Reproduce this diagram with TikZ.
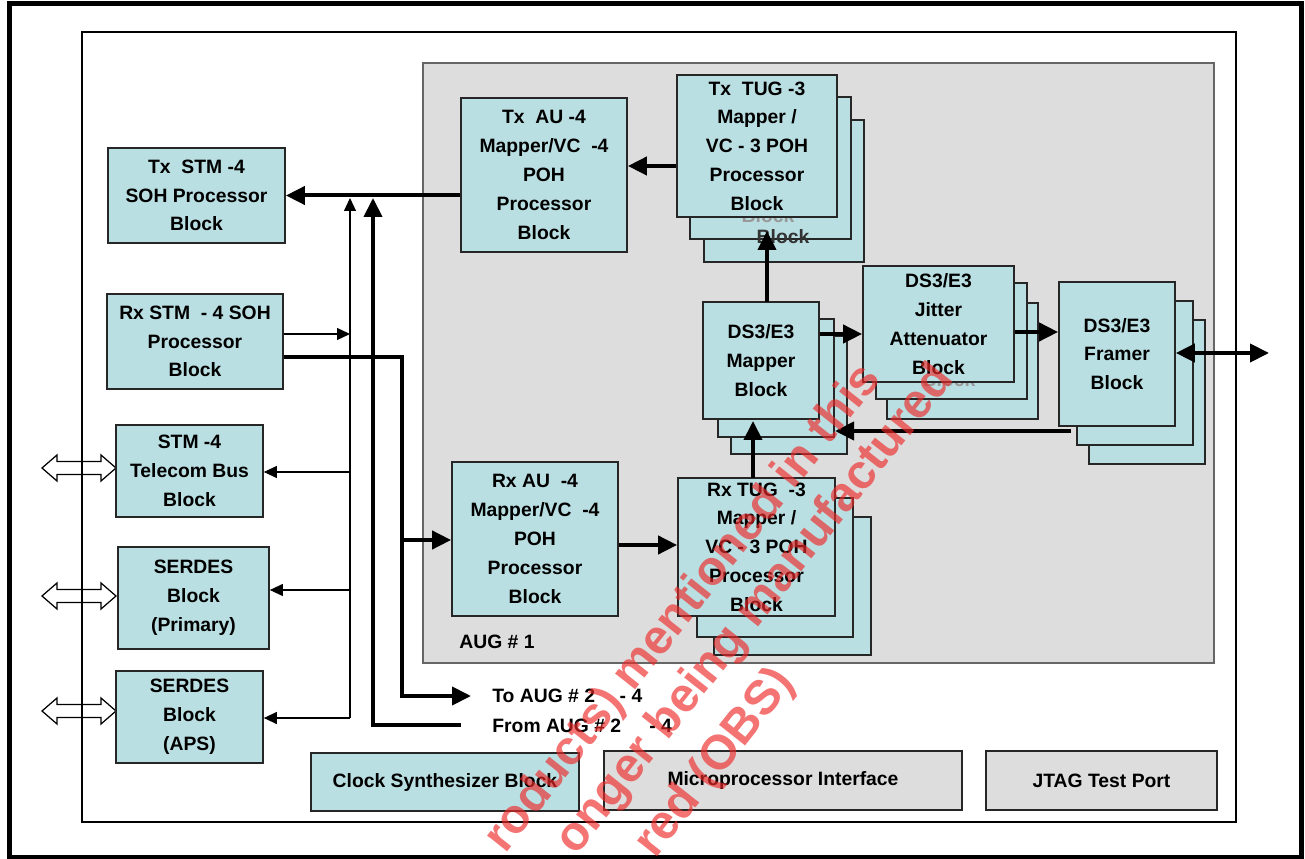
\documentclass[tikz,border=0pt]{standalone}
\usepackage{fontspec}
\setmainfont{Liberation Sans}
\usetikzlibrary{arrows.meta}
\definecolor{blockblue}{RGB}{186,223,226}
\definecolor{augfill}{RGB}{221,221,221}
\definecolor{wmred}{RGB}{238,40,40}
\tikzset{
  every node/.style={font=\fontsize{11}{16.4}\selectfont\bfseries, inner sep=0pt},
  wh/.style 2 args={minimum width=#1*0.2mm, minimum height=#2*0.2mm},
  blk/.style={rectangle, draw=black!85, line width=0.35mm, fill=blockblue, align=center},
  gblk/.style={blk, fill=augfill},
  ghost/.style={text=black!40},
  thinarr/.style={line width=0.25mm, -{Triangle[length=2.6mm, width=2.4mm]}},
  thickarr/.style={line width=0.8mm, -{Triangle[length=3.8mm, width=3.6mm]}},
  thickboth/.style={line width=0.8mm, {Triangle[length=3.8mm, width=3.6mm]}-{Triangle[length=3.8mm, width=3.6mm]}},
  hollow/.style={line width=0.25mm},
  wmark/.style={rotate=51.6, text=wmred, text opacity=0.65, font=\fontsize{27.5}{27.5}\selectfont\bfseries}
}

\begin{document}
\begin{tikzpicture}[x=0.2mm, y=-0.2mm]
  \useasboundingbox (0,0) rectangle (1305,859);
  \clip (0,0) rectangle (1305,859);

  % frames
  \draw[line width=1mm] (9,4) rectangle (1301,857);
  \foreach \y in {468,596,711}
    \draw[hollow] (42,\y) -- ++(15,-13) -- ++(0,6.5) -- ++(44,0) -- ++(0,-6.5)
      -- ++(15,13) -- ++(-15,13) -- ++(0,-6.5) -- ++(-44,0) -- ++(0,6.5) -- cycle;
  \draw[line width=0.25mm] (82,32) rectangle (1236,822);
  \node (aug) [rectangle, draw=black!60, line width=0.3mm, fill=augfill, wh={791}{600}] at (818.5,363) {};
  \node (augtxt) [anchor=west] at (459,642) {AUG \# 1};

  % left column
  \node (txstm) [blk, wh={177}{95}] at (196.5,195.5) {Tx~~STM -4\\SOH Processor\\Block};
  \node (rxstm) [blk, wh={176}{95}] at (195,341.5) {Rx STM~~- 4 SOH\\Processor\\Block};
  \node (tele) [blk, wh={147}{92}] at (189.5,471) {STM -4\\Telecom Bus\\Block};
  \node (serp) [blk, wh={151}{102}] at (193.5,598) {SERDES\\Block\\(Primary)};
  \node (seraps) [blk, wh={147}{92}] at (189.5,717) {SERDES\\Block\\(APS)};

  % bottom row
  \node (clk) [blk, wh={268}{58}] at (445,782) {Clock Synthesizer Block};
  \node (upi) [gblk, wh={358}{59}] at (783,780.5) {Microprocessor Interface};
  \node (jtag) [gblk, wh={231}{59}] at (1101.5,780.5) {JTAG Test Port};

  % AUG #1 blocks
  \node (txau) [blk, wh={166}{154}] at (544,175) {Tx~~AU -4\\Mapper/VC~~-4\\POH\\Processor\\Block};
  \node (rxau) [blk, wh={166}{154}] at (535,539) {Rx AU~~-4\\Mapper/VC~~-4\\POH\\Processor\\Block};

  \node (txtugc) [blk, wh={160}{142}] at (784,191) {};
  \node (txtugb) [blk, wh={161}{142}] at (770.5,168) {};
  \node (txtugg) [text=black!80] at (783,237) {Block};
  \node (txtugh) [ghost] at (768,216) {Block};
  \node (txtug) [blk, wh={160}{142}] at (757,146) {Tx~~TUG -3\\Mapper /\\VC - 3 POH\\Processor\\Block};

  \node (mapc) [blk, wh={116}{118}] at (789,395) {};
  \node (mapb) [blk, wh={116}{118}] at (776,378) {};
  \node (map) [blk, wh={116}{117}] at (761,360.5) {DS3/E3\\Mapper\\Block};

  \node (jitc) [blk, wh={151}{116}] at (962.5,361) {};
  \node (jitb) [blk, wh={151}{116}] at (951.5,341) {};
  \node (jitg) [ghost] at (949,380) {Block};
  \node (jit) [blk, wh={151}{116}] at (938.5,324) {DS3/E3\\Jitter\\Attenuator\\Block};

  \node (frmc) [blk, wh={116}{144}] at (1147,392) {};
  \node (frmb) [blk, wh={116}{144}] at (1135,373) {};
  \node (frm) [blk, wh={116}{144}] at (1117,354) {DS3/E3\\Framer\\Block};

  \node (rxtugc) [blk, wh={157}{138}] at (792.5,586) {};
  \node (rxtugb) [blk, wh={156}{139}] at (775,567.5) {};
  \node (rxtug) [blk, wh={157}{138}] at (756.5,547) {Rx TUG~~-3\\Mapper /\\VC - 3 POH\\Processor\\Block};

  % bus coordinates
  \coordinate (bustop) at (350,198);
  \coordinate (busrx) at (350,334);
  \coordinate (bustele) at (350,472);
  \coordinate (busserp) at (350,590);
  \coordinate (busaps) at (350,718);
  \coordinate (fromaug) at (461,725);
  \coordinate (fromcorner) at (373,725);
  \coordinate (fromtop) at (373,198);
  \coordinate (rxcorner) at (402,357);
  \coordinate (rxaubranch) at (402,540);
  \coordinate (tocorner) at (402,696);
  \coordinate (toaug) at (471,696);
  \coordinate (lineout) at (1269,353);
  \coordinate (backstart) at (1071,431);
  \coordinate (backend) at (835,431);

  % thin bus
  \draw[thinarr] (busaps) -- (bustop);
  \draw[thinarr] (rxstm.east |- busrx) -- (busrx);
  \draw[thinarr] (bustele) -- (tele.east |- bustele);
  \draw[thinarr] (busserp) -- (serp.east |- busserp);
  \draw[thinarr] (busaps) -- (seraps.east |- busaps);

  % thick paths
  \draw[thickarr] (txau.west |- txstm.east) -- (txstm.east);
  \draw[thickarr] (fromaug) -- (fromcorner) -- (fromtop);
  \draw[thickarr] (rxstm.east |- rxcorner) -- (rxcorner) -- (tocorner) -- (toaug);
  \draw[thickarr] (rxaubranch) -- (rxau.west |- rxaubranch);
  \draw[thickarr] (rxau.east |- 0,545) -- (rxtug.west |- 0,545);
  \draw[thickarr] (753,478) -- (753,421);
  \draw[thickarr] (767,302) -- (767,231);
  \draw[thickarr] (txtug.west |- 0,166) -- (txau.east |- 0,166);
  \draw[thickarr] (map.east |- 0,334) -- (jit.west |- 0,334);
  \draw[thickarr] (jit.east |- 0,332) -- (frm.west |- 0,332);
  \draw[thickboth] (frm.east |- lineout) -- (lineout);
  \draw[thickarr] (backstart) -- (backend);

  \node (totxt) [anchor=west] at (492,696) {To AUG \# 2\hspace{14pt}- 4};
  \node (fromtxt) [anchor=west] at (492,726) {From AUG \# 2\hspace{16pt}- 4};

  % watermark
  \node (wm1) [wmark, anchor=base west] at (505,855) {roducts) mentioned in this};
  \node (wm2) [wmark, anchor=base west] at (576,857) {onger being manufactured};
  \node (wm3) [wmark, anchor=base west] at (655,860) {red (OBS)};
\end{tikzpicture}
\end{document}
